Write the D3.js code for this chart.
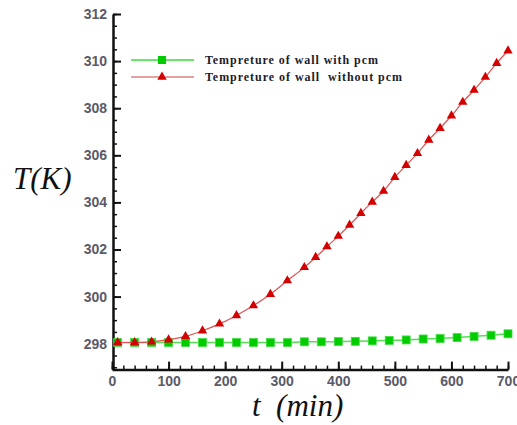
<!DOCTYPE html>
<meta charset="utf-8">
<style>
  body { margin: 0; background: #fff; }
  svg { display: block; }
</style>
<body>
<div id="chart"></div>
<script src="https://cdn.jsdelivr.net/npm/d3@7"></script>
<script>

var w = 517, h = 425;

// wall temperature with pcm (green squares)
var withT = [10, 40, 70, 100, 130, 160, 190, 220, 250, 280, 310, 340, 370, 400, 430, 460, 490, 520, 550, 580, 610, 640, 670, 700];
var withK = [298.05, 298.05, 298.05, 298.05, 298.05, 298.05, 298.05, 298.05, 298.05, 298.05, 298.05, 298.08, 298.08, 298.09, 298.1, 298.12, 298.14, 298.16, 298.2, 298.22, 298.26, 298.31, 298.36, 298.42];

// wall temperature without pcm (red triangles)
var withoutT = [10, 40, 70, 100, 130, 160, 190, 220, 250, 280, 310, 340, 360, 380, 400, 420, 440, 460, 480, 500, 520, 540, 560, 580, 600, 620, 640, 660, 680, 700];
var withoutK = [298.05, 298.05, 298.08, 298.17, 298.31, 298.55, 298.84, 299.2, 299.62, 300.1, 300.68, 301.24, 301.67, 302.12, 302.57, 303.04, 303.54, 304.02, 304.48, 305.07, 305.58, 306.08, 306.65, 307.15, 307.68, 308.26, 308.77, 309.32, 309.91, 310.44];

var xTicks = [0, 100, 200, 300, 400, 500, 600, 700];
var yTicks = [298, 300, 302, 304, 306, 308, 310, 312];
var legendLabels = ["Tempreture of wall with pcm", "Tempreture of wall  without pcm"];

var svg = d3.select("#chart")
    .append("svg")
    .attr("width", w)
    .attr("height", h);

var x = d3.scaleLinear().domain([0, 700]).range([112, 508]);
var y = d3.scaleLinear().domain([296.9, 312]).range([369.6, 14]);

var xMinor = d3.range(0, 701, 20);
var yMinor = d3.range(297, 312.01, 0.5);

// minor ticks
svg.append("g")
    .attr("transform", "translate(0,369.6)")
    .call(d3.axisBottom(x).tickValues(xMinor).tickSize(-4).tickSizeOuter(0).tickFormat(""))
    .call(function(g) { g.select(".domain").remove(); })
    .selectAll("line").attr("stroke", "#111").attr("stroke-width", 1.5);

svg.append("g")
    .attr("transform", "translate(113,0)")
    .call(d3.axisLeft(y).tickValues(yMinor).tickSize(-4).tickSizeOuter(0).tickFormat(""))
    .call(function(g) { g.select(".domain").remove(); })
    .selectAll("line").attr("stroke", "#111").attr("stroke-width", 1.5);

// major ticks + labels
var xAxis = svg.append("g")
    .attr("transform", "translate(0,369.6)")
    .call(d3.axisBottom(x).tickValues(xTicks).tickSize(-8).tickSizeOuter(0).tickPadding(6));

var yAxis = svg.append("g")
    .attr("transform", "translate(113,0)")
    .call(d3.axisLeft(y).tickValues(yTicks).tickSize(-8).tickSizeOuter(0).tickPadding(6));

[xAxis, yAxis].forEach(function(a) {
    a.select(".domain").attr("stroke", "#111").attr("stroke-width", 2.5);
    a.selectAll(".tick line").attr("stroke", "#111").attr("stroke-width", 2);
    a.selectAll(".tick text")
        .attr("font-family", "Liberation Sans, Arial, sans-serif")
        .attr("font-size", 14)
        .attr("font-weight", "bold")
        .attr("fill", "#5a5a68");
});

// series
var lineGen = d3.line()
    .x(function(d) { return x(d[0]); })
    .y(function(d) { return y(d[1]); })
    .curve(d3.curveMonotoneX);

var green = withT.map(function(t, i) { return [t, withK[i]]; });
var red = withoutT.map(function(t, i) { return [t, withoutK[i]]; });

svg.append("path")
    .datum(green)
    .attr("d", lineGen)
    .attr("fill", "none")
    .attr("stroke", "#55dd55")
    .attr("stroke-width", 1.5);

svg.selectAll(".sq")
    .data(green)
    .enter()
    .append("rect")
    .attr("class", "sq")
    .attr("x", function(d) { return x(d[0]) - 4; })
    .attr("y", function(d) { return y(d[1]) - 4; })
    .attr("width", 8)
    .attr("height", 8)
    .attr("fill", "#00cc00")
    .attr("stroke", "#44dd44")
    .attr("stroke-width", 0.8);

svg.append("path")
    .datum(red)
    .attr("d", lineGen)
    .attr("fill", "none")
    .attr("stroke", "#e05050")
    .attr("stroke-width", 1.2);

var tri = d3.symbol().type(d3.symbolTriangle).size(38);

svg.selectAll(".tri")
    .data(red)
    .enter()
    .append("path")
    .attr("class", "tri")
    .attr("d", tri)
    .attr("transform", function(d) { return "translate(" + x(d[0]) + "," + y(d[1]) + ")"; })
    .attr("fill", "#d40000");

// legend
var legendY = [60, 77];
svg.append("line").attr("x1", 131).attr("x2", 194).attr("y1", legendY[0]).attr("y2", legendY[0])
    .attr("stroke", "#33dd33").attr("stroke-width", 1.5);
svg.append("rect").attr("x", 158).attr("y", legendY[0] - 4).attr("width", 8).attr("height", 8)
    .attr("fill", "#00cc00");
svg.append("line").attr("x1", 131).attr("x2", 194).attr("y1", legendY[1]).attr("y2", legendY[1])
    .attr("stroke", "#cc4444").attr("stroke-width", 1.2);
svg.append("path").attr("d", tri).attr("transform", "translate(162," + legendY[1] + ")")
    .attr("fill", "#d40000");

var legendW = [173, 197];
svg.selectAll(".leg")
    .data(legendLabels)
    .enter()
    .append("text")
    .attr("class", "leg")
    .text(function(d) { return d; })
    .attr("x", 205)
    .attr("y", function(d, i) { return legendY[i] + 4; })
    .attr("textLength", function(d, i) { return legendW[i]; })
    .attr("lengthAdjust", "spacing")
    .attr("font-family", "Liberation Serif, Times New Roman, serif")
    .attr("font-weight", "bold")
    .attr("font-size", 12)
    .attr("fill", "#1c1c2a")
    .style("white-space", "pre");

// axis titles
svg.append("text")
    .text("T(K)")
    .attr("x", 13)
    .attr("y", 189)
    .attr("font-family", "Liberation Serif, Times New Roman, serif")
    .attr("font-style", "italic")
    .attr("font-size", 31)
    .attr("fill", "#111");

svg.append("text")
    .text("t  (min)")
    .attr("x", 252)
    .attr("y", 416)
    .attr("font-family", "Liberation Serif, Times New Roman, serif")
    .attr("font-style", "italic")
    .attr("font-size", 31)
    .attr("fill", "#111")
    .style("white-space", "pre");

</script>
</body>
